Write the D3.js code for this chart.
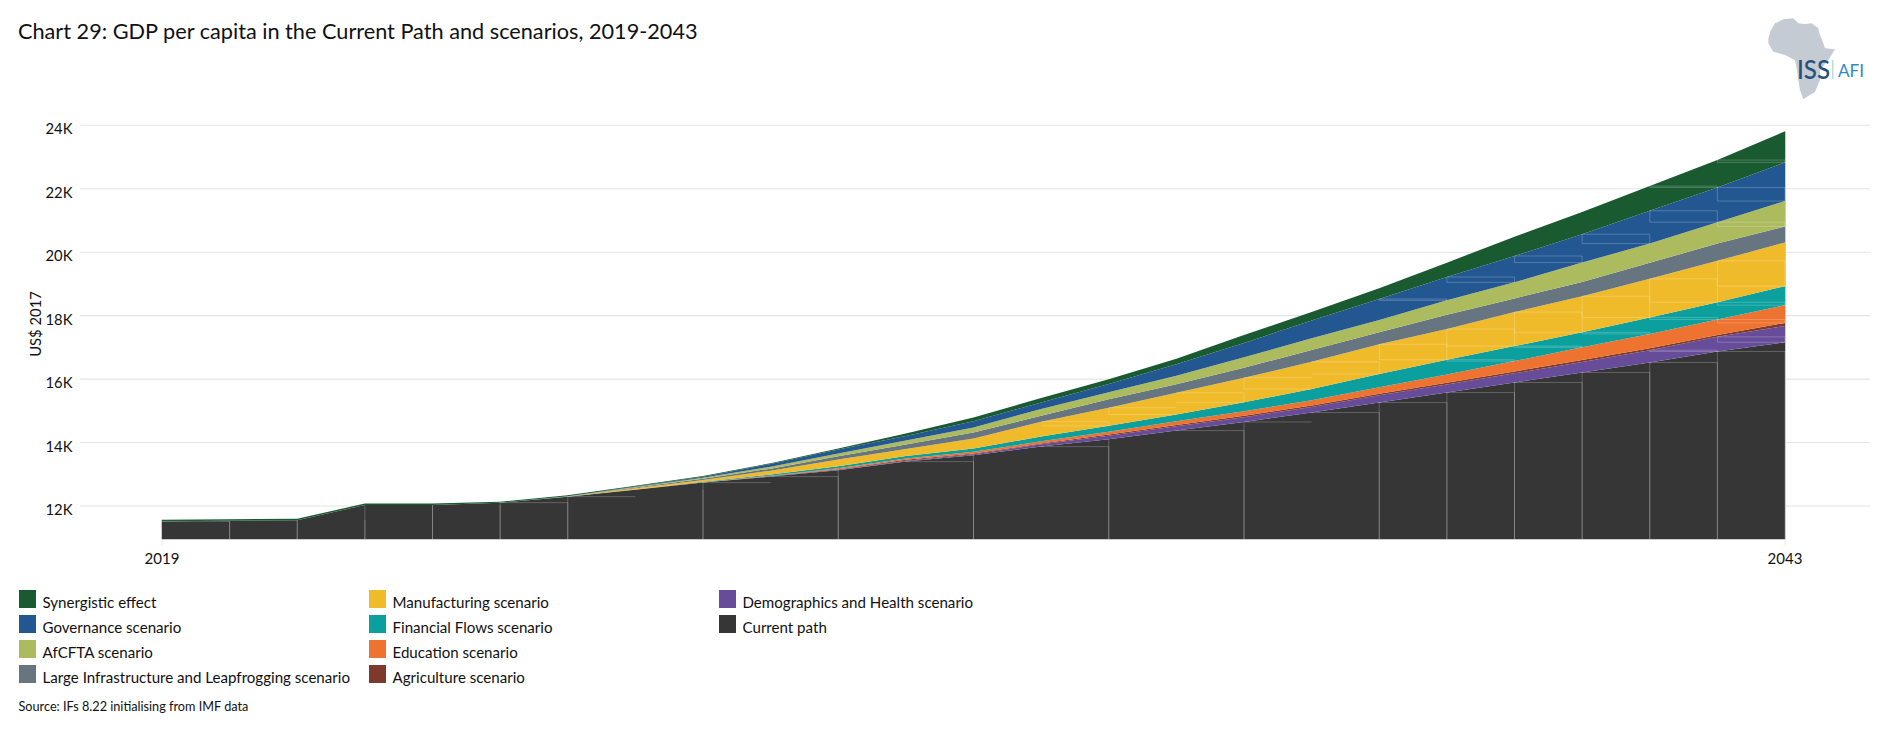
<!DOCTYPE html>
<html><head><meta charset="utf-8">
<script src="https://cdn.jsdelivr.net/npm/d3@7/dist/d3.min.js"></script>
<style>html,body{margin:0;padding:0;background:#fff;overflow:hidden}svg{display:block}text{font-family:Lato,"Open Sans",sans-serif;fill:#111}</style>
</head><body><svg id="c" width="1880" height="739"></svg>
<script>
const title = "Chart 29: GDP per capita in the Current Path and scenarios, 2019-2043";
const source = "Source: IFs 8.22 initialising from IMF data";
const yAxisTitle = "US$ 2017";
const yTicks = [12000,14000,16000,18000,20000,22000,24000];
const xTicks = [2019,2043];
const years = d3.range(2019,2044);
const currentPath = [11516,11532,11554,12030,12030,12106,12295,12516,12737,12926,13125,13399,13598,13872,14103,14377,14649,14945,15261,15576,15892,16207,16523,16870,17163];
const demographics = [0,0,0,0,0,0,0,0,2,8,20,30,30,73,115,140,150,175,230,255,290,335,388,461,514];
const agriculture = [0,0,0,0,0,0,0,1,3,8,15,25,25,28,35,40,45,50,50,55,60,60,63,63,95];
const education = [0,0,0,0,0,0,0,1,4,15,30,45,55,65,85,115,142,160,200,262,325,400,451,483,558];
const financialFlows = [0,0,0,0,0,0,1,3,15,32,63,75,105,155,190,210,284,356,420,463,473,473,515,546,599];
const manufacturing = [0,0,0,0,0,0,4,40,60,126,211,220,316,464,568,685,773,858,936,967,1073,1136,1220,1304,1379];
const infrastructure = [0,0,0,0,0,0,3,25,40,63,104,148,190,190,265,268,316,375,379,452,431,452,505,547,505];
const afcfta = [0,0,0,0,0,0,3,15,30,63,85,126,158,211,221,268,331,365,389,452,505,610,610,673,799];
const governance = [0,0,0,0,0,0,3,10,30,85,126,135,195,208,262,363,450,560,660,736,831,893,1031,1094,1220];
const synergistic = [50,48,45,48,48,30,28,25,25,22,35,80,115,139,148,174,252,270,336,452,610,704,778,862,978];

const seriesNames = ["Current path","Demographics and Health scenario","Agriculture scenario","Education scenario","Financial Flows scenario","Manufacturing scenario","Large Infrastructure and Leapfrogging scenario","AfCFTA scenario","Governance scenario","Synergistic effect"];
const seriesValues = [currentPath,demographics,agriculture,education,financialFlows,manufacturing,infrastructure,afcfta,governance,synergistic];
const seriesColors = ["#363636","#674c9a","#7d3a2b","#ee7230","#0ba09e","#f0bb2a","#66757f","#acbb5e","#235792","#1a5a30"];

// legend layout, column by column, top to bottom
const legendColumns = [
  ["Synergistic effect","Governance scenario","AfCFTA scenario","Large Infrastructure and Leapfrogging scenario"],
  ["Manufacturing scenario","Financial Flows scenario","Education scenario","Agriculture scenario"],
  ["Demographics and Health scenario","Current path"]
];
const legendX = [19,369,719];
// years where the source picture shows its faint cell outlines
const currentRuleYears = [2019,2024,2025,2027,2028,2030,2032,2034,2035,2036,2037,2038,2039,2040,2041,2042];
const scenarioRuleYears = [2031,2032,2033,2034,2035,2036,2037,2038,2039,2040,2041,2042];
const edgeYears = [2020,2021,2022,2023,2024,2025,2027,2029,2031,2033,2035,2037,2038,2039,2040,2041,2042,2043];

const svg = d3.select("#c");
const x = d3.scaleLinear().domain([2019,2043]).range([162,1785]);
const y = d3.scaleLinear().domain([12000,24000]).range([506,125.3]);
const base = 10950;

svg.append("text").attr("x",18).attr("y",39).attr("font-size",21.7).text(title);

const grid = svg.append("g");
yTicks.forEach(t=>{
  grid.append("line").attr("x1",80).attr("x2",1870).attr("y1",y(t)).attr("y2",y(t)).attr("stroke","#e4e4e4").attr("stroke-width",1.1);
  svg.append("text").attr("x",72.5).attr("y",y(t)+9).attr("text-anchor","end").attr("font-size",14.8).text((t/1000)+"K");
});
xTicks.forEach(t=>{
  grid.append("line").attr("x1",x(t)).attr("x2",x(t)).attr("y1",y(base)).attr("y2",y(base)+6).attr("stroke","#e8e8e8");
  svg.append("text").attr("x",x(t)).attr("y",564).attr("text-anchor","middle").attr("font-size",15).text(t);
});
svg.append("text").attr("transform",`translate(41,324) rotate(-90)`).attr("text-anchor","middle").attr("font-size",14.8).text(yAxisTitle);

const rows = years.map((yr,i)=>{const r={year:yr};seriesNames.forEach((n,k)=>r[n]=seriesValues[k][i]);return r;});
const stacked = d3.stack().keys(seriesNames)(rows);
const area = d3.area().x(d=>x(d.data.year)).y0(d=>y(Math.max(d[0],base))).y1(d=>y(d[1]));
stacked.forEach((s,k)=>{
  svg.append("path").datum(s).attr("d",area).attr("fill",seriesColors[k]);
});

// faint cell outlines
const rules = svg.append("g").attr("stroke","#fff").attr("stroke-opacity",0.22).attr("stroke-width",1).attr("fill","none");
const idx = yr=>yr-2019;
function cell(k,yr){
  const s=stacked[k];
  const top=y(s[idx(yr)][1]);
  const bottom=k===0?y(base):y(s[idx(yr+1)][0]);
  return {top,bottom,ok:bottom-top>1};
}
stacked.forEach((s,k)=>{
  (k===0?currentRuleYears:scenarioRuleYears).forEach(yr=>{
    const c=cell(k,yr); if(!c.ok) return;
    rules.append("line").attr("x1",x(yr)).attr("x2",x(yr+1)).attr("y1",c.top).attr("y2",c.top);
    if(k>0) rules.append("line").attr("x1",x(yr)).attr("x2",x(yr+1)).attr("y1",c.bottom).attr("y2",c.bottom);
  });
  edgeYears.forEach(yr=>{
    [yr,yr-1].forEach(cy=>{
      if(cy>2042||cy<2019) return;
      if(k>0 && !scenarioRuleYears.includes(cy)) return;
      const c=cell(k,cy); if(!c.ok) return;
      rules.append("line").attr("x1",x(yr)).attr("x2",x(yr)).attr("y1",c.top).attr("y2",c.bottom);
    });
  });
});
// pale left and right ends of the plotted band
[2019,2043].forEach(t=>{
  const i=idx(t);
  svg.append("line").attr("x1",x(t)+(t===2043?0.5:-0.5)).attr("x2",x(t)+(t===2043?0.5:-0.5))
    .attr("y1",y(stacked[stacked.length-1][i][1])).attr("y2",y(base)).attr("stroke","#c9cdd2").attr("stroke-width",1);
});

// legend
legendColumns.forEach((col,ci)=>{
  col.forEach((name,ri)=>{
    const k=seriesNames.indexOf(name);
    const yy=590+ri*25;
    svg.append("rect").attr("x",legendX[ci]).attr("y",yy).attr("width",17).attr("height",18).attr("fill",seriesColors[k]);
    svg.append("text").attr("x",legendX[ci]+23.5).attr("y",yy+18).attr("font-size",15.1).text(name);
  });
});
svg.append("text").attr("x",18.5).attr("y",711).attr("font-size",12.7).text(source);

// logo
const logo = svg.append("g").attr("transform","translate(1740,0) scale(0.3333)");
logo.append("path").attr("fill","#c5cbd3").attr("d","M85,115L92,92L105,70L130,58L160,55L175,70L195,72L215,70L235,85L240,105L250,130L255,145L285,148L265,180L240,210L240,240L225,275L190,298L180,270L175,240L172,215L165,180L135,165L100,155L85,130Z");
svg.append("text").attr("x",1797).attr("y",79).attr("textLength",33).attr("lengthAdjust","spacingAndGlyphs").attr("font-size",27).attr("font-weight",500).style("fill","#24507a").text("ISS");
svg.append("rect").attr("x",1832).attr("y",60).attr("width",1.5).attr("height",19).attr("fill","#bfdcd4");
svg.append("text").attr("x",1838).attr("y",77).attr("textLength",26).attr("lengthAdjust","spacingAndGlyphs").attr("font-size",18).style("fill","#2e8bc8").text("AFI");
</script></body></html>
